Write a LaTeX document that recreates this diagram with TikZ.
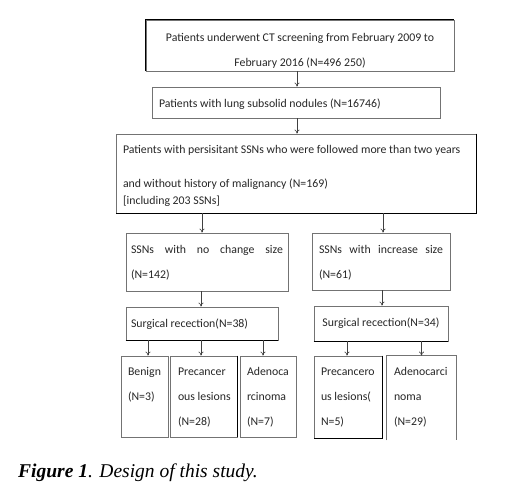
\documentclass[tikz,border=0pt]{standalone}
\usepackage{fontspec}
\setmainfont{Carlito}
\newfontfamily\capfont{Liberation Serif}
\usetikzlibrary{arrows.meta}
% box content: [top skip], width, height, alignment, text
\newcommand\bxt[5][10.5]{\parbox[c][#3pt][t]{#2pt}{\hyphenpenalty=10000 \exhyphenpenalty=10000
  \vspace*{#1pt}#4\rule{0pt}{10pt}#5}}
\begin{document}
\begin{tikzpicture}[x=1pt,y=-1pt,
  box/.style={draw=black!55, line width=0.8pt, rectangle, inner ysep=0pt, inner xsep=7pt,
    font=\fontsize{11.8}{25}\selectfont, text=black!85},
  dk/.style={draw=black, line width=0.9pt},
  arr/.style={-{To[length=4pt,width=5pt]}, draw=black!75, line width=0.6pt}]
\useasboundingbox (0,0) rectangle (518,493);
% level 1-3
\node[box] (b1) at (300,45.5)
  {\bxt[11]{294}{51}{\centering}{\mbox{Patients underwent CT screening from February 2009 to}\\\mbox{February 2016 (N=496 250)}}};
\node[box] (b2) at (296,102.5)
  {\bxt{274}{31}{\raggedright}{\mbox{Patients with lung subsolid nodules (N=16746)}}};
\node[box] (b3) at (296,173.5)
  {\bxt[9.5]{346}{79}{\raggedright}{\mbox{Patients with persisitant SSNs who were followed more than two years}\\[9pt]
   \mbox{and without history of malignancy (N=169)}\\[-8pt]
   \mbox{[including 203 SSNs]}}};
% level 4
\node[box, inner xsep=5pt] (l1) at (207,262)
  {\bxt{152}{58}{\raggedright}{SSNs\hfill with\hfill no\hfill change\hfill size\hspace*{11pt}\\(N=142)}};
\node[box] (r1) at (381,261.5)
  {\bxt{124}{57}{\raggedright}{SSNs\hfill with\hfill increase\hfill size\\(N=61)}};
% level 5
\node[box, inner xsep=5pt] (l2) at (202,323.5)
  {\bxt{142}{33}{\raggedright}{\mbox{Surgical recection(N=38)}}};
\node[box] (r2) at (381,323.5)
  {\bxt{120}{35}{\centering}{\mbox{Surgical recection(N=34)}}};
% level 6
\node[box] (c1) at (144.5,396.5)
  {\bxt[9]{33}{81}{\raggedright}{\mbox{Benign}\\(N=3)}};
\node[box, inner xsep=8pt] (c2) at (203.5,396.5)
  {\bxt[9]{51}{81}{\raggedright}{\mbox{Precancer}\\\mbox{ous lesions}\\(N=28)}};
\node[box] (c3) at (268,396.5)
  {\bxt[9]{42}{81}{\raggedright}{\mbox{Adenoca}\\\mbox{rcinoma}\\(N=7)}};
\node[box] (c4) at (348,397)
  {\bxt[9]{54}{82}{\raggedright}{\mbox{Precancero}\\\mbox{us lesions(}\\N=5)}};
\node[box, draw=none] (c5) at (421.5,398)
  {\bxt[9]{55}{84}{\raggedright}{\mbox{Adenocarci}\\noma\\(N=29)}};
\draw[draw=black!55, line width=0.8pt] (c5.south west) -- (c5.north west) -- (c5.north east) -- (c5.south east);
% darker edges
\draw[dk] (b1.south west) -- (b1.north west) -- (b1.north east);
\draw[dk] (b3.north east) -- (b3.south east) -- (b3.south west);
\draw[dk] (l2.south west) -- (l2.south east);
\draw[dk] (r2.south west) -- (r2.south east);
\draw[dk] (c2.north east) -- (c2.south east);
\draw[dk] (c4.north east) -- (c4.south east) -- (c4.south west);
% arrows
\draw[arr] ([xshift=1pt]b2.north |- b1.south) -- ([xshift=1pt]b2.north);
\draw[arr] ([xshift=1pt]b2.south) -- ([xshift=1pt]b2.south |- b3.north);
\draw[arr] ([xshift=-5pt]l1.north |- b3.south) -- ([xshift=-5pt]l1.north);
\draw[arr] ([xshift=2pt]r1.north |- b3.south) -- ([xshift=2pt]r1.north);
\draw[arr] ([xshift=-1pt]l2.north |- l1.south) -- ([xshift=-1pt]l2.north);
\draw[arr] ([xshift=1pt]r2.north |- r1.south) -- ([xshift=1pt]r2.north);
\draw[arr] ([xshift=3.5pt]c1.north |- l2.south) -- ([xshift=3.5pt]c1.north);
\draw[arr] ([xshift=-2.5pt]c2.north |- l2.south) -- ([xshift=-2.5pt]c2.north);
\draw[arr] ([xshift=-5pt]c3.north |- l2.south) -- ([xshift=-5pt]c3.north);
\draw[arr] ([xshift=-1pt]c4.north |- r2.south) -- ([xshift=-1pt]c4.north);
\draw[arr] (c5.north |- r2.south) -- (c5.north);
% caption
\node[anchor=base west, inner sep=0pt, font=\capfont\itshape\fontsize{19.5}{20}\selectfont, text=black] (cap) at (18,477)
  {\textbf{Figure 1}. Design of this study.};
\end{tikzpicture}
\end{document}
